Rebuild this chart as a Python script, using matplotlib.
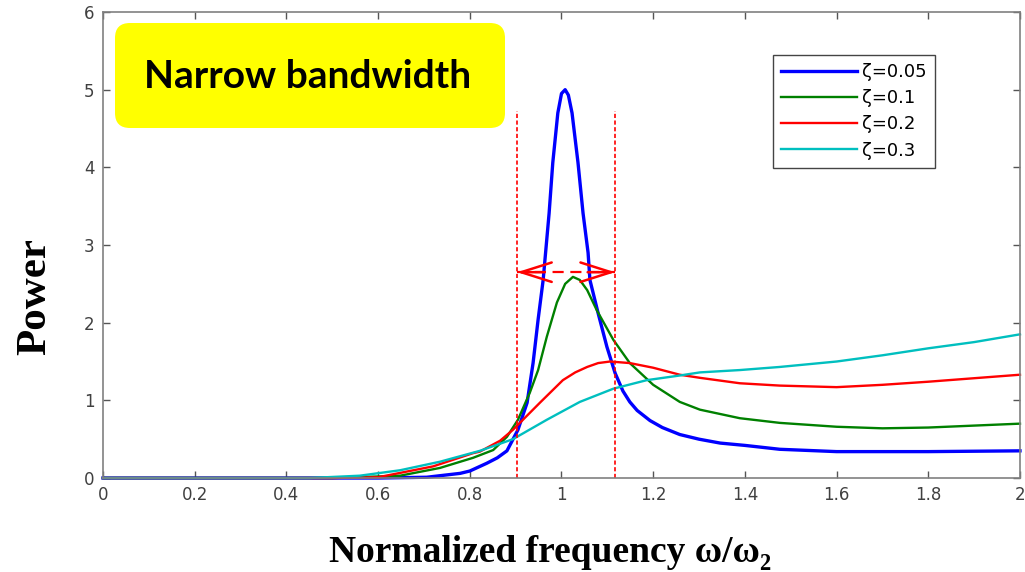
import matplotlib.pyplot as plt
from matplotlib.patches import FancyBboxPatch

# values
blue_x = [0, 0.5, 0.6, 0.706, 0.779, 0.80, 0.837, 0.86, 0.881, 0.905, 0.925, 0.938,
          0.949, 0.960, 0.973, 0.981, 0.992, 1.000, 1.008, 1.015, 1.023, 1.036,
          1.047, 1.058, 1.062, 1.080, 1.099, 1.117, 1.134, 1.149, 1.165, 1.193,
          1.22, 1.258, 1.30, 1.346, 1.40, 1.476, 1.6, 1.8, 2.0]
blue_y = [0, 0, 0, 0.01, 0.06, 0.09, 0.19, 0.26, 0.35, 0.62, 0.97, 1.48,
          2.04, 2.55, 3.41, 4.06, 4.70, 4.95, 5.0, 4.93, 4.70, 4.06,
          3.41, 2.90, 2.55, 2.12, 1.69, 1.35, 1.12, 0.98, 0.87, 0.74,
          0.65, 0.56, 0.50, 0.45, 0.42, 0.37, 0.34, 0.34, 0.35]

green_x = [0, 0.5, 0.648, 0.735, 0.807, 0.851, 0.881, 0.905, 0.931, 0.949, 0.968,
           0.990, 1.008, 1.025, 1.040, 1.056, 1.077, 1.113, 1.149, 1.200, 1.258,
           1.302, 1.389, 1.476, 1.6, 1.7, 1.8, 2.0]
green_y = [0, 0, 0.03, 0.13, 0.26, 0.36, 0.53, 0.75, 1.10, 1.39, 1.82,
           2.26, 2.50, 2.59, 2.55, 2.42, 2.16, 1.78, 1.48, 1.20, 0.98,
           0.88, 0.77, 0.71, 0.66, 0.64, 0.65, 0.70]

red_x = [0, 0.5, 0.6, 0.72, 0.807, 0.822, 0.866, 0.894, 0.953, 1.003, 1.030,
         1.056, 1.080, 1.106, 1.149, 1.200, 1.258, 1.302, 1.389, 1.476, 1.6,
         1.7, 1.8, 2.0]
red_y = [0, 0, 0.01, 0.15, 0.32, 0.34, 0.48, 0.62, 0.97, 1.26, 1.36,
         1.43, 1.48, 1.50, 1.48, 1.42, 1.33, 1.29, 1.22, 1.19, 1.17,
         1.20, 1.24, 1.33]

cyan_x = [0, 0.45, 0.56, 0.648, 0.735, 0.822, 0.894, 0.968, 1.040, 1.113, 1.186,
          1.258, 1.302, 1.389, 1.476, 1.6, 1.7, 1.8, 1.9, 2.0]
cyan_y = [0, 0, 0.03, 0.10, 0.21, 0.35, 0.50, 0.75, 0.98, 1.15, 1.26,
          1.32, 1.36, 1.39, 1.43, 1.50, 1.58, 1.67, 1.75, 1.85]

series_labels = ["ζ=0.05", "ζ=0.1", "ζ=0.2", "ζ=0.3"]
series_colors = ["#0000ff", "#008000", "#ff0000", "#00bfbf"]

band_edges = [0.903, 1.117]
band_top = 4.72
arrow_y = 2.65

x_ticks = [0, 0.2, 0.4, 0.6, 0.8, 1.0, 1.2, 1.4, 1.6, 1.8, 2.0]
x_tick_labels = ["0", "0.2", "0.4", "0.6", "0.8", "1", "1.2", "1.4", "1.6", "1.8", "2"]
y_ticks = [0, 1, 2, 3, 4, 5, 6]

fig = plt.figure(figsize=(10.25, 5.72), dpi=100)
ax = fig.add_axes([0.1005, 0.1643, 0.8946, 0.8147])

series = [(blue_x, blue_y), (green_x, green_y), (red_x, red_y), (cyan_x, cyan_y)]
widths = [2.4, 1.7, 1.7, 1.7]
for (xs, ys), lab, col, lw in zip(series, series_labels, series_colors, widths):
    ax.plot(xs, ys, color=col, lw=lw, label=lab, clip_on=False,
            solid_joinstyle="round")

# bandwidth markers
for xe in band_edges:
    ax.plot([xe, xe], [0, band_top], color="red", lw=1.2, linestyle=(0, (2.5, 1.5)))
ax.plot(band_edges, [arrow_y, arrow_y], color="red", lw=1.6, linestyle=(0, (5, 3)))
head = dict(arrowstyle="->,head_length=1.1,head_width=0.35", color="red", lw=1.8,
            mutation_scale=20, shrinkA=0, shrinkB=0)
ax.annotate("", xy=(band_edges[0], arrow_y), xytext=(band_edges[0] + 0.06, arrow_y),
            arrowprops=head)
ax.annotate("", xy=(band_edges[1], arrow_y), xytext=(band_edges[1] - 0.06, arrow_y),
            arrowprops=head)

ax.set_xlim(0, 2)
ax.set_ylim(0, 6)
ax.set_xticks(x_ticks)
ax.set_xticklabels(x_tick_labels)
ax.set_yticks(y_ticks)
ax.tick_params(direction="in", length=5, width=1, color="#555555", labelcolor="#404040",
               labelsize=12, top=True, right=True, pad=6)
for lbl in ax.get_xticklabels() + ax.get_yticklabels():
    lbl.set_family("DejaVu Sans")
for sp in ax.spines.values():
    sp.set_color("#808080")
    sp.set_linewidth(1.2)

leg = ax.legend(loc="upper left", bbox_to_anchor=(0.7306, 0.9077), borderaxespad=0,
                fancybox=False, edgecolor="#444444", framealpha=1,
                prop={"family": "DejaVu Sans", "size": 13}, handlelength=4.2,
                labelspacing=0.45, handletextpad=0.3, borderpad=0.45)
leg.get_frame().set_linewidth(1.0)

# yellow callout box (pixel-based inches so the corners stay round)
box = FancyBboxPatch((1.15, 4.44), 3.90, 1.05, boxstyle="round,pad=0,rounding_size=0.15",
                     transform=fig.dpi_scale_trans, facecolor="#ffff00", edgecolor="none")
fig.patches.append(box)
fig.text(308 / 1025, 1 - 77 / 572, "Narrow bandwidth", ha="center", va="center",
         fontsize=28, fontweight="bold", family="Lato", color="black")

fig.text(550 / 1025, 1 - 552 / 572, "Normalized frequency ω/ω₂", ha="center", va="center",
         fontsize=27, fontweight="bold", family=["Liberation Serif", "DejaVu Serif"])
fig.text(35 / 1025, 1 - 297 / 572, "Power", ha="center", va="center", rotation=90,
         fontsize=31, fontweight="bold", family="Liberation Serif")

fig.savefig("out.png", dpi=100)
